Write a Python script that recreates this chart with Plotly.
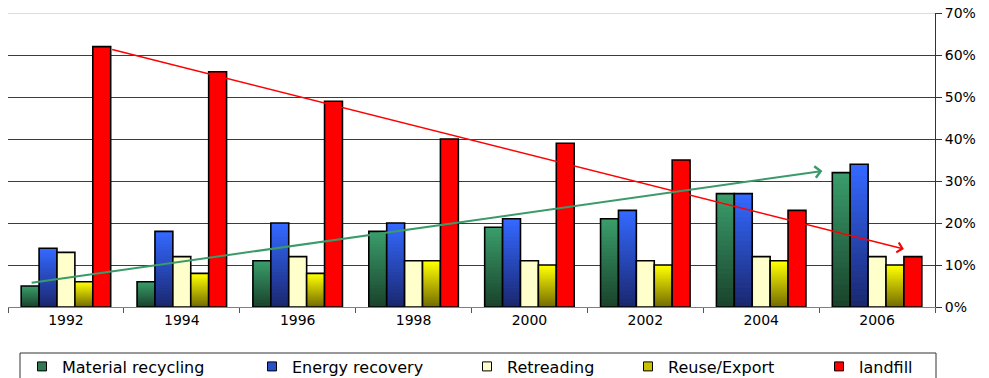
import plotly.graph_objects as go

# Tyre waste management routes, share of total (%)
years = ["1992", "1994", "1996", "1998", "2000", "2002", "2004", "2006"]
material_recycling = [5, 6, 11, 18, 19, 21, 27, 32]
energy_recovery = [14, 18, 20, 20, 21, 23, 27, 34]
retreading = [13, 12, 12, 11, 11, 11, 12, 12]
reuse_export = [6, 8, 8, 11, 10, 10, 11, 10]
landfill = [62, 56, 49, 40, 39, 35, 23, 12]

series_names = ["Material recycling", "Energy recovery", "Retreading", "Reuse/Export", "landfill"]
y_tick_values = [0, 10, 20, 30, 40, 50, 60, 70]
y_tick_labels = ["0%", "10%", "20%", "30%", "40%", "50%", "60%", "70%"]

# (values, top colour, bottom colour or None for flat fill, legend swatch colour)
series_styles = [
    (material_recycling, (58, 156, 106), (26, 68, 44), "#2f7a50"),
    (energy_recovery, (52, 104, 255), (26, 40, 112), "#2a4fc8"),
    (retreading, (255, 255, 204), None, "#ffffcc"),
    (reuse_export, (255, 255, 0), (118, 110, 0), "#c8c000"),
    (landfill, (255, 0, 0), None, "#ff0000"),
]

BAR_W = 0.1545
GROUP_START = -2.5 * BAR_W
N_SLICES = 24
FONT = "DejaVu Sans"
FIG_W, FIG_H = 989, 378


def rgb(c):
    return "rgb(%d,%d,%d)" % tuple(int(round(v)) for v in c)


def lerp(a, b, t):
    return tuple(a[i] + (b[i] - a[i]) * t for i in range(3))


fig = go.Figure()

for i, (vals, top, bottom, _) in enumerate(series_styles):
    off = GROUP_START + i * BAR_W
    if bottom is None:
        fig.add_trace(go.Bar(
            x=years, y=vals, offset=off, width=BAR_W,
            marker=dict(color=rgb(top), line=dict(color="black", width=1.6)),
            name=series_names[i], showlegend=False, hoverinfo="x+y",
        ))
        continue
    # vertical gradient: stacked-down slices, light at the top, dark at the base
    for k in range(N_SLICES):
        frac = (N_SLICES - k) / N_SLICES
        col = lerp(top, bottom, k / (N_SLICES - 1))
        fig.add_trace(go.Bar(
            x=years, y=[v * frac for v in vals], offset=off, width=BAR_W,
            marker=dict(color=rgb(col), line=dict(width=0)),
            showlegend=False, hoverinfo="skip",
        ))
    fig.add_trace(go.Bar(
        x=years, y=vals, offset=off, width=BAR_W,
        marker=dict(color="rgba(0,0,0,0)", line=dict(color="black", width=1.6)),
        name=series_names[i], showlegend=False, hoverinfo="x+y",
    ))

# one legend per series so each entry sits at its own position
legend_text_px = [62, 292, 507, 668, 859]
PLOT_L, PLOT_W = 8, 927
legend_layouts = {}
for i, (_, _, _, swatch) in enumerate(series_styles):
    lid = "legend" if i == 0 else "legend%d" % (i + 1)
    fig.add_trace(go.Scatter(
        x=[None], y=[None], mode="markers", name=series_names[i],
        marker=dict(symbol="square", size=9, color=swatch, line=dict(color="black", width=1)),
        legend=lid, showlegend=True,
    ))
    legend_layouts[lid] = dict(
        xref="container", yref="container",
        x=(legend_text_px[i] - 40) / FIG_W, xanchor="left",
        y=1 - 366.5 / FIG_H, yanchor="middle", orientation="h",
        bgcolor="rgba(0,0,0,0)", borderwidth=0,
        font=dict(family=FONT, size=16, color="black"),
    )

# trend arrows
red_x0 = 0 + GROUP_START + 5 * BAR_W
red_x1 = 7 + GROUP_START + 4 * BAR_W
green_x0 = 0 + GROUP_START + 0.5 * BAR_W
green_x1 = 7 + GROUP_START - 0.55 * BAR_W
fig.add_annotation(
    x=red_x1, y=landfill[-1] + 1.8, ax=red_x0, ay=landfill[0] - 0.6,
    xref="x", yref="y", axref="x", ayref="y", text="", showarrow=True,
    arrowhead=4, arrowsize=1.3, arrowwidth=1.5, arrowcolor="#ff0000",
)
fig.add_annotation(
    x=green_x1, y=material_recycling[-1] + 0.4, ax=green_x0, ay=material_recycling[0] + 0.7,
    xref="x", yref="y", axref="x", ayref="y", text="", showarrow=True,
    arrowhead=4, arrowsize=1.1, arrowwidth=2, arrowcolor="#3a9a6a",
)

# legend frame and the pale top gridline
fig.add_shape(type="rect", xref="paper", yref="paper",
              x0=(20 - PLOT_L) / PLOT_W, x1=(936 - PLOT_L) / PLOT_W,
              y0=-0.1565, y1=-0.30, line=dict(color="#333333", width=1),
              fillcolor="rgba(0,0,0,0)", layer="below")
fig.add_shape(type="line", xref="paper", yref="y", x0=0, x1=1, y0=70, y1=70,
              line=dict(color="#cfcfcf", width=1.5), layer="above")

fig.update_layout(
    width=FIG_W, height=FIG_H,
    margin=dict(l=8, r=54, t=13, b=71, autoexpand=False),
    paper_bgcolor="white", plot_bgcolor="white",
    barmode="overlay",
    font=dict(family=FONT, size=14, color="black"),
    **legend_layouts,
)
fig.update_xaxes(
    type="category", categoryorder="array", categoryarray=years,
    showline=True, linecolor="#808080", linewidth=1,
    ticks="outside", tickson="boundaries", ticklen=5, tickcolor="#555555",
    showgrid=False, automargin=False,
    tickfont=dict(family=FONT, size=14, color="black"),
)
fig.update_yaxes(
    side="right", range=[0, 70], tickvals=y_tick_values, ticktext=y_tick_labels,
    showline=True, linecolor="#333333", linewidth=1,
    ticks="outside", ticklen=6, tickcolor="#333333",
    showgrid=True, gridcolor="#3c3c3c", gridwidth=1, zeroline=False,
    automargin=False,
    tickfont=dict(family=FONT, size=14, color="black"),
)

fig.write_html("out.html")
